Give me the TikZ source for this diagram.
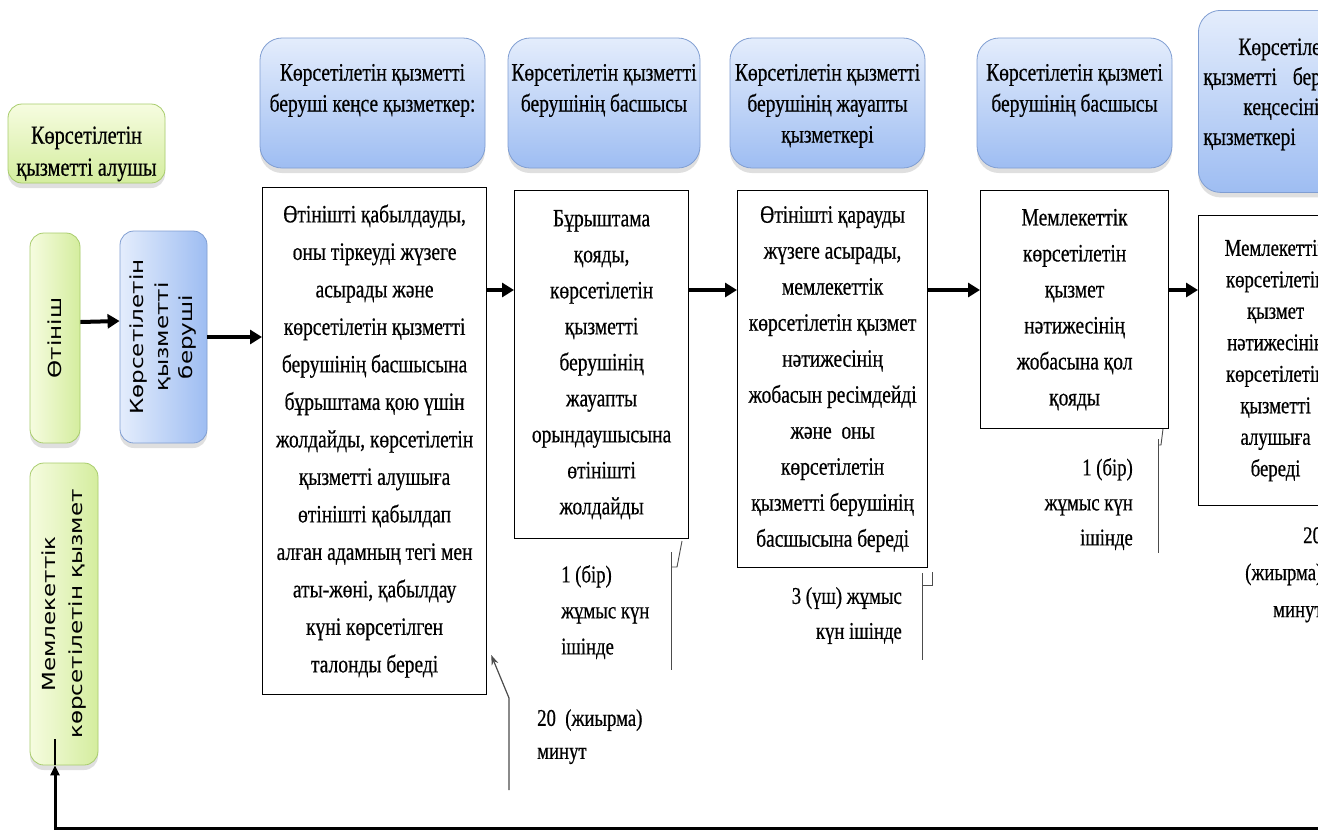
\documentclass[tikz,border=0pt]{standalone}
\usepackage{fontspec}
\setmainfont{Liberation Serif}[FakeStretch=0.78,FakeBold=0.5]
\newfontfamily\rotfont{DejaVu Sans}[FakeStretch=1.28]
\usetikzlibrary{arrows.meta,shadows,calc}
\definecolor{blueTop}{RGB}{228,237,252}
\definecolor{blueBot}{RGB}{158,189,242}
\definecolor{blueBd}{RGB}{128,158,210}
\definecolor{greenTop}{RGB}{246,252,224}
\definecolor{greenBot}{RGB}{212,237,158}
\definecolor{greenBd}{RGB}{168,204,108}
\newcommand\hdrtxt[4]{\begin{minipage}[c][#2][t]{#1}\centering\fontsize{25}{31}\selectfont\vspace*{#3}#4\end{minipage}}
\begin{document}
\begin{tikzpicture}[x=1pt,y=-1pt,
  shadowed/.style={drop shadow={shadow xshift=0pt,shadow yshift=-5pt,opacity=0.25}},
  hdr/.style={shadowed,rounded corners=22pt,draw=blueBd,line width=0.8pt,top color=blueTop,bottom color=blueBot,inner sep=0pt},
  gbox/.style={shadowed,rounded corners=14pt,draw=greenBd,line width=0.8pt,top color=greenTop,bottom color=greenBot,inner sep=0pt,align=center},
  gvbox/.style={shadowed,rounded corners=14pt,draw=greenBd,line width=0.8pt,left color=greenTop,right color=greenBot,inner sep=0pt,align=center,rotate=90},
  bvbox/.style={shadowed,rounded corners=14pt,draw=blueBd,line width=0.8pt,left color=blueTop,right color=blueBot,inner sep=0pt,align=center,rotate=90},
  bbox/.style={draw=black,line width=1.2pt,fill=white,inner sep=0pt,align=center,anchor=north west,font=\fontsize{25}{37.5}\selectfont},
  tnote/.style={inner sep=0pt,font=\fontsize{24}{36}\selectfont},
  flow/.style={line width=4pt,-{Triangle[length=12pt,width=14pt]}},
  retline/.style={line width=3pt},
  callout/.style={draw=black!70,line width=0.9pt},
]
\useasboundingbox (0,0) rectangle (1318,831);
\fill[white] (0,0) rectangle (1318,831);
\clip (0,0) rectangle (1318,831);

% left column
\node[gbox,minimum width=157pt,minimum height=79pt,font=\fontsize{26}{32}\selectfont] (recv) at (86.5,143.5)
  {\rule{0pt}{38pt}Көрсетілетін\\қызметті алушы};
\node[gvbox,minimum width=210pt,minimum height=50pt,font={\rotfont\fontsize{18}{24}\selectfont}] (app) at (55,338)
  {Өтініш};
\node[bvbox,minimum width=212pt,minimum height=87pt,font={\rotfont\fontsize{18}{24.5}\selectfont}] (giver) at (163.5,337)
  {Көрсетілетін\\қызметті\\беруші};
\node[gvbox,minimum width=302pt,minimum height=68pt,font={\rotfont\fontsize{18}{27}\selectfont}] (state) at (64,614)
  {Мемлекеттік\\көрсетілетін қызмет};

% header boxes
\node[hdr] (h1) at (372.5,103) {\hdrtxt{225pt}{130pt}{26pt}{Көрсетілетін қызметті\\беруші кеңсе қызметкер:}};
\node[hdr] (h2) at (604,103) {\hdrtxt{192pt}{130pt}{26pt}{Көрсетілетін қызметті\\берушінің басшысы}};
\node[hdr] (h3) at (827.5,103) {\hdrtxt{195pt}{130pt}{26pt}{Көрсетілетін қызметті\\берушінің жауапты\\қызметкері}};
\node[hdr] (h4) at (1074.5,103) {\hdrtxt{195pt}{130pt}{26pt}{Көрсетілетін қызметі\\берушінің басшысы}};
\node[hdr,anchor=north west] (h5) at (1198,10)
  {\begin{minipage}[c][182pt][t]{200pt}\raggedright\fontsize{25}{30}\selectfont\vspace*{28pt}%
   \hspace*{40pt}Көрсетілетін\\
   \hspace*{5pt}қызметті\hspace{16pt}берушінің\\
   \hspace*{45pt}кеңсесінің\\
   \hspace*{5pt}қызметкері\end{minipage}};

% body boxes
\node[bbox,minimum width=224pt,minimum height=507pt] (b1) at (262,187)
  {Өтінішті қабылдауды,\\оны тіркеуді жүзеге\\асырады және\\көрсетілетін қызметті\\берушінің басшысына\\бұрыштама қою үшін\\жолдайды, көрсетілетін\\қызметті алушыға\\өтінішті қабылдап\\алған адамның тегі мен\\аты-жөні, қабылдау\\күні көрсетілген\\талонды береді};
\node[bbox,minimum width=174pt,minimum height=348pt,font=\fontsize{25}{36}\selectfont] (b2) at (514,190)
  {Бұрыштама\\қояды,\\көрсетілетін\\қызметті\\берушінің\\жауапты\\орындаушысына\\өтінішті\\жолдайды};
\node[bbox,minimum width=190pt,minimum height=377pt,font=\fontsize{25}{36}\selectfont] (b3) at (737,190)
  {Өтінішті қарауды\\жүзеге асырады,\\мемлекеттік\\көрсетілетін қызмет\\нәтижесінің\\жобасын ресімдейді\\және\ \ оны\\көрсетілетін\\қызметті берушінің\\басшысына береді};
\node[bbox,minimum width=188pt,minimum height=238pt,font=\fontsize{25}{36}\selectfont] (b4) at (980,190)
  {Мемлекеттік\\көрсетілетін\\қызмет\\нәтижесінің\\жобасына қол\\қояды};
\node[bbox,minimum width=154pt,minimum height=290pt,font=\fontsize{24}{31.5}\selectfont] (b5) at (1198,215)
  {Мемлекеттік\\көрсетілетін\\қызмет\\нәтижесінің\\көрсетілетін\\қызметті\\алушыға\\береді};

% time notes
\node[tnote,anchor=north west,align=left] (t1) at (561,565) {1 (бір)\\жұмыс күн\\ішінде};
\node[tnote,anchor=north east,align=right,font=\fontsize{24}{35}\selectfont] (t2) at (902,587) {3 (үш) жұмыс\\күн ішінде};
\node[tnote,anchor=north east,align=right,font=\fontsize{24}{35}\selectfont] (t3) at (1133,458) {1 (бір)\\жұмыс күн\\ішінде};
\node[tnote,anchor=north west,align=left,font=\fontsize{24}{33}\selectfont] (t4) at (537,709) {20\ \ (жиырма)\\минут};
\node[tnote,anchor=north west,align=left,font=\fontsize{24}{37}\selectfont] (t5) at (1245,527) {\hspace*{58pt}20\\(жиырма)\\\hspace*{28pt}минут};

% flow arrows
\coordinate (row) at (0,290);
\draw[flow] ([yshift=16pt]app.south) -- ([yshift=16pt]giver.north);
\draw[flow] (giver.south) -- (b1.west |- giver.south);
\draw[flow] (b1.east |- row) -- (b2.west |- row);
\draw[flow] (b2.east |- row) -- (b3.west |- row);
\draw[flow] (b3.east |- row) -- (b4.west |- row);
\draw[flow] (b4.east |- row) -- (b5.west |- row);

% return line
\coordinate (retstart) at (1330,828);
\coordinate (retcorner) at (55,828);
\draw[retline,-{Triangle[length=10pt,width=9pt]}] (retstart) -- (retcorner) -- (retcorner |- state.west);
\draw[line width=2.5pt] (retcorner |- state.west) -- ++(0,-26);

% callout brackets
\draw[callout] (671,552) -- (671,670);
\draw[callout] (671,567) -- (677,567) -- (682,541);
\draw[callout] (922,573) -- (922,660);
\draw[callout] (922,585) -- (932,585) -- (932,572);
\draw[callout] (1158,439) -- (1158,553);
\draw[callout] (1158,445) -- (1161,445) -- (1163,429);
\coordinate (tip20) at ($(b1.east |- 0,655)+(4,0)$);
\draw[callout,line width=1.2pt,-{Stealth[length=10pt,width=7pt]}] (509,790) -- (509,698) -- (tip20);
\end{tikzpicture}
\end{document}
